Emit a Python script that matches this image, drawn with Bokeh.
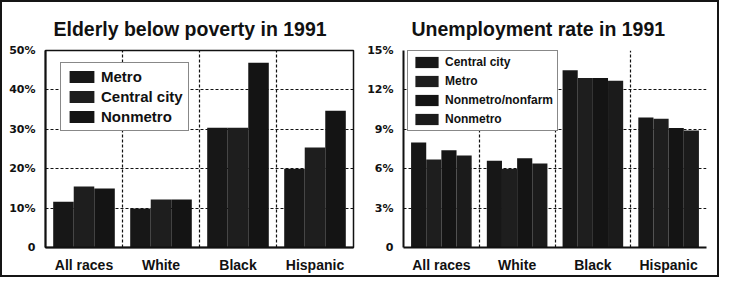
import numpy as np
from bokeh.plotting import figure
from bokeh.layouts import row
from bokeh.models import Range1d, FixedTicker
from bokeh.embed import file_html
from bokeh.resources import INLINE

# ---------------- data ----------------
categories = ["All races", "White", "Black", "Hispanic"]

pov_series = ["Metro", "Central city", "Nonmetro"]
pov_metro = [11.6, 9.9, 30.4, 20.0]
pov_central = [15.5, 12.2, 30.4, 25.4]
pov_nonmetro = [15.0, 12.2, 46.9, 34.7]
pov_ticks = [0, 10, 20, 30, 40, 50]

unemp_series = ["Central city", "Metro", "Nonmetro/nonfarm", "Nonmetro"]
unemp_central = [8.0, 6.6, 13.5, 9.9]
unemp_metro = [6.7, 6.0, 12.9, 9.8]
unemp_nonfarm = [7.4, 6.8, 12.9, 9.1]
unemp_nonmetro = [7.0, 6.4, 12.7, 8.9]
unemp_ticks = [0, 3, 6, 9, 12, 15]

bar_colors = ["#171717", "#1e1e1e", "#141414", "#1b1b1b"]

HEAD = "Liberation Sans"
TICKF = "DejaVu Sans"


def make_panel(title, series_names, series_vals, yticks, width, border_left,
               border_right, legend_loc, legend_font, glyph_w, glyph_h,
               spacing, padding, dashed_edges):
    ymax = yticks[-1]
    n = len(categories)
    p = figure(width=width, height=273, x_range=Range1d(0, n),
               y_range=Range1d(0, ymax), output_backend="svg",
               toolbar_location=None, min_border_left=border_left,
               min_border_right=border_right, min_border_top=48,
               min_border_bottom=21)
    p.background_fill_color = "white"
    p.border_fill_color = "white"

    k = len(series_names)
    group_w = 0.8
    w = group_w / k
    centers = np.arange(n) + 0.5
    for i, (name, vals) in enumerate(zip(series_names, series_vals)):
        xs = centers + (i - (k - 1) / 2) * w
        p.vbar(x=xs, top=vals, width=w, fill_color=bar_colors[i],
               line_color=None, legend_label=name)

    # title
    p.title.text = title
    p.title.align = "left"
    p.title.offset = 8
    p.title.standoff = 21
    p.title.text_font = HEAD
    p.title.text_font_style = "bold"
    p.title.text_font_size = "19.5px"
    p.title.text_color = "#111111"

    # axes
    p.xaxis.ticker = FixedTicker(ticks=list(centers))
    p.xaxis.major_label_overrides = {float(c): lab for c, lab in zip(centers, categories)}
    p.xaxis.major_tick_line_color = None
    p.xaxis.minor_tick_line_color = None
    p.xaxis.major_label_text_font = HEAD
    p.xaxis.major_label_text_font_style = "bold"
    p.xaxis.major_label_text_font_size = "14px"
    p.xaxis.major_label_text_color = "#111111"
    p.xaxis.major_label_standoff = 3
    p.xaxis.axis_line_color = "#111111"
    p.xaxis.axis_line_width = 2

    p.yaxis.ticker = FixedTicker(ticks=yticks)
    p.yaxis.major_label_overrides = {t: ("0" if t == 0 else f"{t}%") for t in yticks}
    p.yaxis.major_tick_line_color = None
    p.yaxis.minor_tick_line_color = None
    p.yaxis.major_label_text_font = TICKF
    p.yaxis.major_label_text_font_style = "bold"
    p.yaxis.major_label_text_font_size = "11px"
    p.yaxis.major_label_text_color = "#111111"
    p.yaxis.major_label_standoff = 4
    p.yaxis.axis_line_color = "#111111"
    p.yaxis.axis_line_width = 2

    # grids
    xgrid_ticks = list(range(1, n + (1 if dashed_edges else 0)))
    p.xgrid.ticker = FixedTicker(ticks=xgrid_ticks)
    p.ygrid.ticker = FixedTicker(ticks=yticks[1:] if dashed_edges else yticks[1:-1])
    for g in (p.xgrid, p.ygrid):
        g.grid_line_color = "#111111"
        g.grid_line_dash = "3 2"
        g.grid_line_width = 1.2
        g.grid_line_alpha = 1.0

    if dashed_edges:
        p.outline_line_color = None
    else:
        p.outline_line_color = "#111111"
        p.outline_line_width = 1.5

    # legend
    lg = p.legend[0]
    lg.location = legend_loc
    lg.margin = 0
    lg.padding = padding
    lg.spacing = spacing
    lg.glyph_width = glyph_w
    lg.glyph_height = glyph_h
    lg.label_height = glyph_h
    lg.label_standoff = 4
    lg.label_text_font = HEAD
    lg.label_text_font_style = "bold"
    lg.label_text_font_size = legend_font
    lg.label_text_color = "#111111"
    lg.border_line_color = "#111111"
    lg.border_line_width = 1.2
    lg.background_fill_color = "white"
    lg.background_fill_alpha = 1.0
    return p


p1 = make_panel("Elderly below poverty in 1991", pov_series,
                [pov_metro, pov_central, pov_nonmetro], pov_ticks,
                width=360, border_left=43, border_right=9,
                legend_loc=(15, 116), legend_font="15px", glyph_w=31,
                glyph_h=15, spacing=3, padding=5, dashed_edges=False)

p2 = make_panel("Unemployment rate in 1991", unemp_series,
                [unemp_central, unemp_metro, unemp_nonfarm, unemp_nonmetro],
                unemp_ticks, width=355, border_left=41, border_right=11,
                legend_loc=(4, 116), legend_font="12px", glyph_w=29,
                glyph_h=14, spacing=5, padding=4, dashed_edges=True)

layout = row(p1, p2, spacing=0, styles={"border": "2px solid #151515"})

open("out.html", "w").write(file_html(layout, INLINE))
